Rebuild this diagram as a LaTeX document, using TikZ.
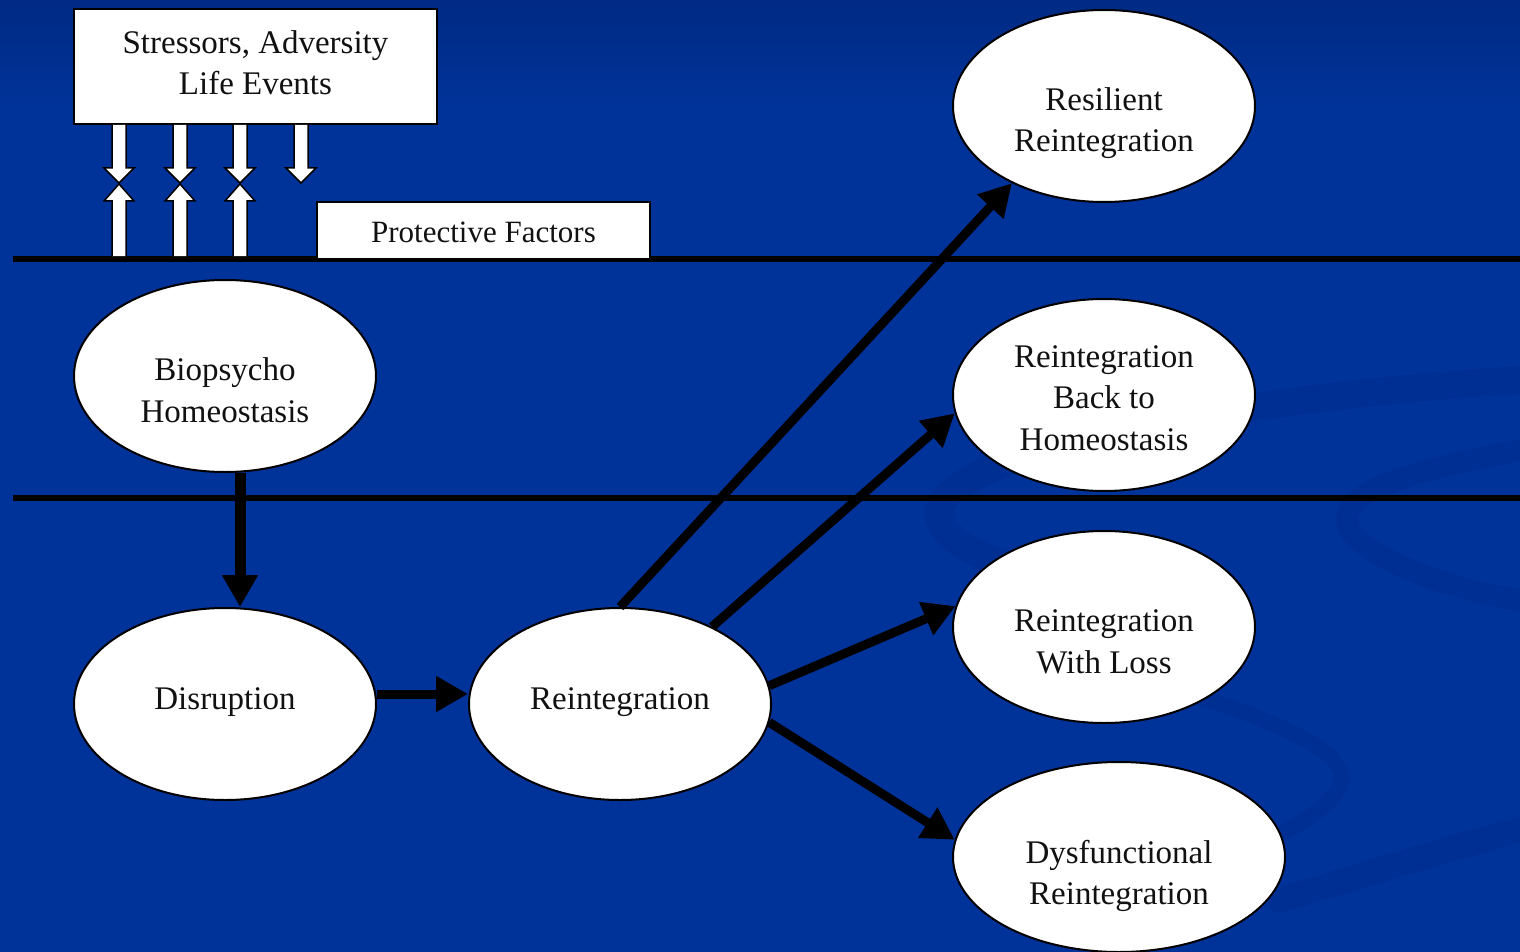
\documentclass[tikz,border=0pt]{standalone}
\usepackage{fontspec}
\setmainfont{Liberation Serif}
\usetikzlibrary{arrows.meta,shapes.geometric}
\definecolor{bgblue}{RGB}{0,51,153}
\definecolor{bgtop}{RGB}{0,42,132}
\definecolor{swirlc}{RGB}{0,44,140}
\definecolor{txt}{RGB}{17,17,17}
\tikzset{
  oval/.style={ellipse,draw=black,line width=2pt,fill=white,minimum width=302pt,minimum height=192pt,inner sep=0pt},
  box/.style={rectangle,draw=black,line width=2pt,fill=white,inner sep=0pt},
  lbl/.style={align=center,text=txt,inner sep=0pt,font=\fontsize{33}{41.5}\selectfont},
  flow/.style={line width=9pt,-{Triangle[length=32pt,width=34pt]}},
  warr/.style={fill=white,draw=black,line width=1.5pt,line join=miter},
  rule/.style={line width=6pt,draw=black},
  swirl/.style={draw=swirlc,line cap=round,opacity=0.45}
}
\newcommand\wdown[3]{\draw[warr] (#1-7,#2)--(#1-7,#3-15)--(#1-15,#3-15)--(#1,#3)--(#1+15,#3-15)--(#1+7,#3-15)--(#1+7,#2);}
\newcommand\wup[3]{\draw[warr] (#1-7,#2)--(#1-7,#3+17)--(#1-15,#3+17)--(#1,#3)--(#1+15,#3+17)--(#1+7,#3+17)--(#1+7,#2);}
\begin{document}
\begin{tikzpicture}[x=1pt,y=-1pt]
\useasboundingbox (0,0) rectangle (1520,952);
\fill[bgblue] (0,0) rectangle (1520,952);
\shade[top color=bgtop,bottom color=bgblue] (0,0) rectangle (1520,110);
% background swirls
\draw[swirl,line width=28pt] (1520,380) .. controls (1200,400) and (920,460) .. (940,520) .. controls (955,560) and (1050,580) .. (1120,590);
\draw[swirl,line width=22pt] (1520,450) .. controls (1420,470) and (1330,490) .. (1350,530) .. controls (1370,560) and (1450,590) .. (1520,600);
\draw[swirl,line width=16pt] (1180,690) .. controls (1300,730) and (1370,760) .. (1330,800) .. controls (1300,830) and (1250,850) .. (1200,860);
\draw[swirl,line width=26pt] (1280,900) .. controls (1380,870) and (1460,845) .. (1520,830);
% horizontal rules
\draw[rule] (13,259) -- (1520,259);
\draw[rule] (13,498) -- (1520,498);
% boxes
\node[box,minimum width=363pt,minimum height=115pt,label={[lbl,yshift=4pt]center:{Stressors, Adversity\\Life Events}}] (str) at (255.5,66.5) {};
\node[box,minimum width=333pt,minimum height=57pt,label={[lbl,font=\fontsize{31}{41.5}\selectfont,yshift=-2pt]center:{Protective Factors}}] (pro) at (483.5,230.5) {};
% white arrows
\wdown{119}{125}{183}
\wdown{180}{125}{183}
\wdown{240}{125}{183}
\wdown{301}{125}{183}
\wup{119}{256}{184}
\wup{180}{256}{184}
\wup{240}{256}{184}
% ellipses
\node[oval,label={[lbl,yshift=-14pt]center:Biopsycho\\Homeostasis}] (bio) at (225,376) {};
\node[oval,label={[lbl,yshift=2pt]center:Disruption}] (dis) at (225,704) {};
\node[oval,label={[lbl,yshift=2pt]center:Reintegration}] (rei) at (620,704) {};
\node[oval,label={[lbl,yshift=-17pt]center:Resilient\\Reintegration}] (res) at (1104,106) {};
\node[oval,label={[lbl,yshift=-3pt]center:Reintegration\\Back to\\Homeostasis}] (bac) at (1104,395) {};
\node[oval,label={[lbl,yshift=-15pt]center:Reintegration\\With Loss}] (los) at (1104,627) {};
\node[oval,minimum width=332pt,minimum height=190pt,label={[lbl,yshift=-19pt]center:Dysfunctional\\Reintegration}] (dys) at (1119,857) {};
% connectors
\draw[flow,line width=11pt] ([xshift=15pt]bio.south) -- ([xshift=15pt]dis.north);
\draw[flow] ([yshift=10pt]dis.east) -- ([yshift=10pt]rei.west);
\draw[flow] (rei.north) -- (res.220);
\draw[flow] (rei.40) -- (bac.187);
\draw[flow] (rei.7) -- (los.172);
\draw[flow] (rei.-7) -- (dys.174);
\end{tikzpicture}
\end{document}
